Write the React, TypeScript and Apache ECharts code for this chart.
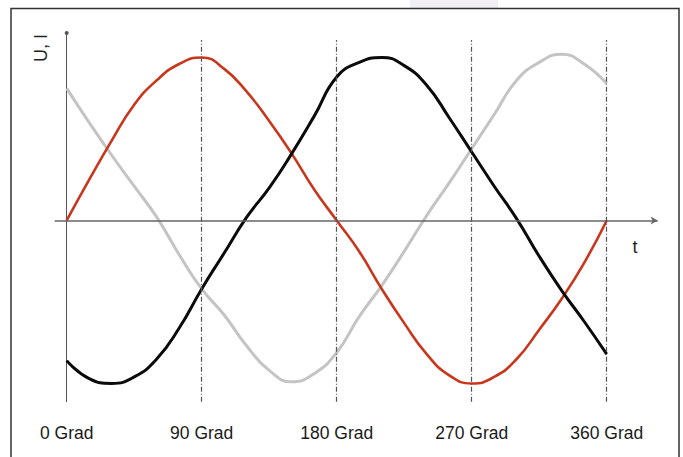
import React, { useEffect, useRef } from "react";
import * as echarts from "echarts";

const angles = [0, 15, 30, 45, 60, 75, 90, 105, 120, 135, 150, 165, 180, 195, 210, 225, 240, 255, 270, 285, 300, 315, 330, 345, 360];
const redValues = [0, 0.25, 0.49, 0.71, 0.86, 0.96, 1.0, 0.93, 0.79, 0.61, 0.41, 0.19, 0, -0.19, -0.42, -0.63, -0.82, -0.95, -1.0, -0.96, -0.85, -0.67, -0.48, -0.26, 0];
const blackValues = [-0.86, -0.97, -1.0, -0.96, -0.85, -0.66, -0.42, -0.2, 0.02, 0.2, 0.41, 0.64, 0.88, 0.97, 1.0, 0.95, 0.83, 0.63, 0.42, 0.21, 0.01, -0.22, -0.43, -0.62, -0.82];
const grayValues = [0.81, 0.6, 0.4, 0.21, 0.02, -0.21, -0.42, -0.58, -0.77, -0.92, -0.99, -0.94, -0.81, -0.59, -0.4, -0.19, 0.03, 0.23, 0.44, 0.65, 0.86, 0.97, 1.02, 0.96, 0.84];
const tickAngles = [0, 90, 180, 270, 360];
const dashedAngles = [90, 180, 270, 360];
const xLabelSuffix = " Grad";
const yAxisTitle = "U, I";
const xAxisTitle = "t";

const FONT = "'Liberation Sans', Arial, Helvetica, sans-serif";

export default function App() {
  const ref = useRef<HTMLDivElement>(null);
  useEffect(() => {
    if (!ref.current) return;
    const chart = echarts.init(ref.current, undefined, { renderer: "svg" });
    const zip = (vals: number[]) => angles.map((a, i) => [a, vals[i]]);
    const yMin = -1.112;
    const yMax = 1.15;
    const option: any = {
      animation: false,
      backgroundColor: "#ffffff",
      grid: { left: 54.7, right: 25.3, top: 33, bottom: 55.3, containLabel: false },
      xAxis: {
        type: "value",
        min: -8,
        max: 394,
        axisLine: { show: false, onZero: false },
        axisTick: { show: false },
        splitLine: { show: false },
        axisLabel: {
          customValues: tickAngles,
          formatter: (v: number) => v + xLabelSuffix,
          fontSize: 17.5,
          fontFamily: FONT,
          color: "#1a1a1a",
          margin: 22,
          showMinLabel: true,
          showMaxLabel: true,
        },
      },
      yAxis: {
        type: "value",
        min: yMin,
        max: yMax,
        axisLine: {
          show: true,
          onZero: true,
          symbol: ["none", "circle"],
          symbolSize: [4, 4],
          lineStyle: { color: "#555", width: 1 },
        },
        axisTick: { show: false },
        axisLabel: { show: false },
        splitLine: { show: false },
      },
      series: [
        {
          type: "line",
          data: [[0, 0]],
          showSymbol: false,
          silent: true,
          lineStyle: { opacity: 0 },
          z: 1,
          markLine: {
            silent: true,
            animation: false,
            label: { show: false },
            emphasis: { disabled: true },
            data: [
              [
                { coord: [-8, 0], symbol: "none", lineStyle: { color: "#666", width: 1.6, type: "solid" } },
                { coord: [394, 0], symbol: "arrow", symbolSize: [6, 7] },
              ],
              ...dashedAngles.map((a) => [
                { coord: [a, yMin], symbol: "none", lineStyle: { color: "#555", width: 1.2, type: [5, 2, 1, 2] } },
                { coord: [a, 1.107], symbol: "none" },
              ]),
            ],
          },
        },
        {
          type: "line",
          data: zip(grayValues),
          smooth: true,
          showSymbol: false,
          silent: true,
          lineStyle: { color: "#c4c4c4", width: 3 },
          z: 2,
        },
        {
          type: "line",
          data: zip(redValues),
          smooth: true,
          showSymbol: false,
          silent: true,
          lineStyle: { color: "#c8361c", width: 2.6 },
          z: 3,
        },
        {
          type: "line",
          data: zip(blackValues),
          smooth: true,
          showSymbol: false,
          silent: true,
          lineStyle: { color: "#0a0a0a", width: 3 },
          z: 4,
        },
      ],
      graphic: [
        {
          type: "rect",
          shape: { x: 410, y: 0, width: 88, height: 8 },
          style: { fill: "#f1eef6" },
          silent: true,
        },
        {
          type: "rect",
          shape: { x: 11, y: 8.5, width: 668, height: 460 },
          style: { fill: "none", stroke: "#333", lineWidth: 1.5 },
          silent: true,
        },
        {
          type: "text",
          x: 41,
          y: 48,
          rotation: Math.PI / 2,
          style: {
            text: yAxisTitle,
            fontSize: 18,
            fontFamily: FONT,
            fill: "#222",
            align: "center",
            verticalAlign: "middle",
          },
          silent: true,
        },
        {
          type: "text",
          x: 635,
          y: 247,
          style: {
            text: xAxisTitle,
            fontSize: 18,
            fontFamily: FONT,
            fill: "#222",
            align: "center",
            verticalAlign: "middle",
          },
          silent: true,
        },
      ],
    };
    chart.setOption(option);
    return () => chart.dispose();
  }, []);
  return (
    <div
      ref={ref}
      style={{ position: "absolute", left: 0, top: 0, width: 683, height: 457 }}
    />
  );
}
